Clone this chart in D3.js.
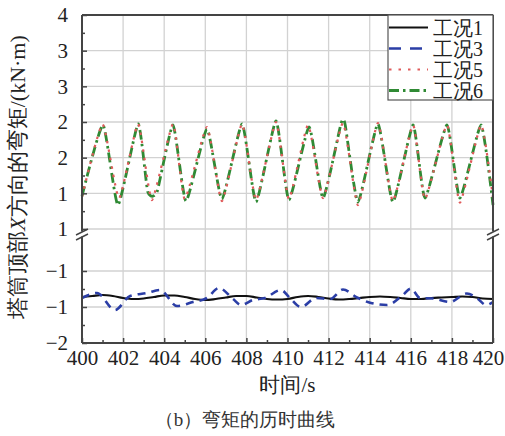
<!DOCTYPE html>
<html>
<head>
<meta charset="utf-8">
<script src="https://cdn.jsdelivr.net/npm/d3@7"></script>
</head>
<body>
<script>
    var width = 505, height = 436;
    var fontFace = "'Liberation Serif'";

    // tick values and labels (labels as printed on the original)
    var xTicks = [400, 402, 404, 406, 408, 410, 412, 414, 416, 418, 420];
    var xMinor = [401, 403, 405, 407, 409, 411, 413, 415, 417, 419];
    var upperTicks = [4, 3.5, 3, 2.5, 2, 1.5, 1];
    var upperLabels = ["4", "3", "3", "2", "2", "1", "1"];
    var upperMinor = [3.75, 3.25, 2.75, 2.25, 1.75, 1.25];
    var lowerTicks = [-0.5, -1, -1.5];
    var lowerLabels = ["\u22121", "\u22121", "\u22122"];
    var lowerMinor = [-0.75, -1.25];

    var legendNames = ["工况1", "工况3", "工况5", "工况6"];

    // 工况1 (lower part)
    var case1Time = [400, 400.5, 401, 401.5, 402, 402.5, 403, 403.5, 404, 404.5,
        405, 405.5, 406, 406.5, 407, 407.5, 408, 408.5, 409, 409.5,
        410, 410.5, 411, 411.5, 412, 412.5, 413, 413.5, 414, 414.5,
        415, 415.5, 416, 416.5, 417, 417.5, 418, 418.5, 419, 419.5, 420];
    var case1Value = [-0.861, -0.847, -0.833, -0.847, -0.875, -0.889, -0.882, -0.861, -0.840, -0.840,
        -0.861, -0.889, -0.903, -0.889, -0.868, -0.847, -0.847, -0.868, -0.889, -0.896,
        -0.889, -0.861, -0.847, -0.861, -0.882, -0.896, -0.889, -0.875, -0.861, -0.854,
        -0.861, -0.875, -0.889, -0.889, -0.875, -0.868, -0.861, -0.854, -0.861, -0.882, -0.889];

    // 工况3 (lower part)
    var case3Time = [400.0, 400.73, 401.6, 402.34, 403.16, 403.8, 404.62, 405.4, 406.08, 406.67,
        407.35, 407.74, 408.32, 408.9, 409.68, 410.12, 410.66, 411.39, 412.07, 412.7,
        413.38, 414.06, 414.84, 415.62, 416.0, 416.45, 417.08, 417.9, 418.73, 419.27, 419.66, 420.0];
    var case3Value = [-0.875, -0.806, -1.042, -0.847, -0.806, -0.764, -0.986, -0.931, -0.875, -0.736,
        -0.889, -0.972, -0.903, -0.875, -0.764, -0.875, -1.0, -0.875, -0.889, -0.757,
        -0.868, -0.944, -0.972, -0.833, -0.743, -0.875, -0.882, -0.931, -0.813, -0.889, -0.972, -0.931];

    // 工况5 (upper part)
    var case5Time = [400.0, 401.0, 401.8, 402.73, 403.4, 404.43, 405.0, 406.08, 406.81, 407.79,
        408.47, 409.44, 410.07, 411.0, 411.73, 412.7, 413.43, 414.4, 415.13, 416.11,
        416.69, 417.76, 418.39, 419.42, 420.0];
    var case5Value = [1.45, 2.47, 1.43, 2.472, 1.406, 2.472, 1.42, 2.43, 1.392, 2.472,
        1.406, 2.50, 1.42, 2.458, 1.434, 2.486, 1.336, 2.486, 1.39, 2.458,
        1.42, 2.458, 1.37, 2.458, 1.434];

    // 工况6 (upper part)
    var case6Time = [400.0, 401.02, 401.75, 402.73, 403.2, 403.65, 404.43, 405.06, 406.08, 406.81,
        407.79, 408.47, 409.44, 410.07, 411.05, 411.73, 412.6, 412.8, 413.43, 414.4,
        415.13, 416.11, 416.69, 417.76, 418.39, 419.42, 420.0];
    var case6Value = [1.462, 2.458, 1.336, 2.472, 1.519, 1.519, 2.458, 1.392, 2.40, 1.42,
        2.472, 1.378, 2.514, 1.406, 2.43, 1.434, 2.472, 2.472, 1.378, 2.472,
        1.378, 2.458, 1.434, 2.458, 1.434, 2.458, 1.336];

    var pLeft = 82, pRight = 493, pTop = 15, pBottom = 343;

    var x = d3.scaleLinear().domain([400, 420]).range([pLeft, pRight]);
    var yUp = d3.scaleLinear().domain([1, 4]).range([229, pTop]);
    var yLow = d3.scaleLinear().domain([-1.5, -0.5]).range([pBottom, 271]);

    d3.select("body").style("margin", "0px");
    var svg = d3.select("body").append("svg")
        .attr("width", width)
        .attr("height", height);

    // grid
    var grid = svg.append("g").attr("stroke", "#d2d2d2").attr("stroke-width", 1.3);
    grid.selectAll(".vg").data(xTicks.slice(1, -1)).enter().append("line")
        .attr("x1", function(d) { return x(d); }).attr("x2", function(d) { return x(d); })
        .attr("y1", pTop).attr("y2", pBottom);
    grid.selectAll(".hu").data(upperTicks.slice(1)).enter().append("line")
        .attr("x1", pLeft).attr("x2", pRight)
        .attr("y1", function(d) { return yUp(d); }).attr("y2", function(d) { return yUp(d); });
    grid.selectAll(".hl").data(lowerTicks.slice(0, -1)).enter().append("line")
        .attr("x1", pLeft).attr("x2", pRight)
        .attr("y1", function(d) { return yLow(d); }).attr("y2", function(d) { return yLow(d); });

    function series(times, values) {
        return times.map(function(t, i) { return [t, values[i]]; });
    }

    var lineUp = d3.line().x(function(d) { return x(d[0]); }).y(function(d) { return yUp(d[1]); })
        .curve(d3.curveCardinal.tension(0.5));
    var lineLow = d3.line().x(function(d) { return x(d[0]); }).y(function(d) { return yLow(d[1]); })
        .curve(d3.curveMonotoneX);

    var styles = [
        {color: "#111111", width: 2.2, dash: null},
        {color: "#2b3ea6", width: 2.6, dash: "8,6"},
        {color: "#e05a5a", width: 2.2, dash: "2.5,6"},
        {color: "#2f8a34", width: 2.8, dash: "10,4,2.5,4"}
    ];

    function drawLine(gen, data, s) {
        svg.append("path")
            .datum(data)
            .attr("d", gen)
            .attr("fill", "none")
            .attr("stroke", s.color)
            .attr("stroke-width", s.width)
            .attr("stroke-dasharray", s.dash);
    }

    drawLine(lineLow, series(case1Time, case1Value), styles[0]);
    drawLine(lineLow, series(case3Time, case3Value), styles[1]);
    drawLine(lineUp, series(case6Time, case6Value), styles[3]);
    drawLine(lineUp, series(case5Time, case5Value), styles[2]);

    // axes (ticks point inward)
    var axLeftUp = svg.append("g").attr("transform", "translate(" + pLeft + ",0)")
        .call(d3.axisLeft(yUp).tickValues(upperTicks)
            .tickFormat(function(d, i) { return upperLabels[i]; })
            .tickSize(-5).tickPadding(14));
    var axLeftLow = svg.append("g").attr("transform", "translate(" + pLeft + ",0)")
        .call(d3.axisLeft(yLow).tickValues(lowerTicks)
            .tickFormat(function(d, i) { return lowerLabels[i]; })
            .tickSize(-5).tickPadding(14));
    var axMinorUp = svg.append("g").attr("transform", "translate(" + pLeft + ",0)")
        .call(d3.axisLeft(yUp).tickValues(upperMinor).tickFormat("").tickSize(-3));
    var axMinorLow = svg.append("g").attr("transform", "translate(" + pLeft + ",0)")
        .call(d3.axisLeft(yLow).tickValues(lowerMinor).tickFormat("").tickSize(-3));
    var axBottom = svg.append("g").attr("transform", "translate(0," + pBottom + ")")
        .call(d3.axisBottom(x).tickValues(xTicks).tickFormat(d3.format("d"))
            .tickSize(-5).tickPadding(7));
    var axBottomMinor = svg.append("g").attr("transform", "translate(0," + pBottom + ")")
        .call(d3.axisBottom(x).tickValues(xMinor).tickFormat("").tickSize(-3));

    [axLeftUp, axLeftLow, axMinorUp, axMinorLow, axBottom, axBottomMinor].forEach(function(g) {
        g.select(".domain").remove();
        g.attr("font-family", null).attr("font-size", null);
        g.selectAll(".tick line").attr("stroke", "#444").attr("stroke-width", 1.5);
        g.selectAll("text").style("font-family", fontFace).style("font-size", "21px").attr("fill", "#222");
    });
    // keep the last x label inside the page
    axBottom.selectAll(".tick text").filter(function(d) { return d === 420; }).attr("dx", "-5");

    // frame with axis break
    var frame = svg.append("g").attr("stroke", "#444").attr("stroke-width", 2).attr("fill", "none");
    frame.append("line").attr("x1", pLeft).attr("x2", pRight).attr("y1", pTop).attr("y2", pTop);
    frame.append("line").attr("x1", pLeft).attr("x2", pRight).attr("y1", pBottom).attr("y2", pBottom);
    [pLeft, pRight].forEach(function(px) {
        frame.append("line").attr("x1", px).attr("x2", px).attr("y1", pTop).attr("y2", 231.5);
        frame.append("line").attr("x1", px).attr("x2", px).attr("y1", 236.5).attr("y2", pBottom);
        frame.append("line").attr("stroke-width", 1.5)
            .attr("x1", px - 6).attr("y1", 235).attr("x2", px + 6).attr("y2", 229);
        frame.append("line").attr("stroke-width", 1.5)
            .attr("x1", px - 6).attr("y1", 240).attr("x2", px + 6).attr("y2", 234);
    });

    // legend
    var lg = svg.append("g");
    lg.append("rect").attr("x", 388).attr("y", pTop).attr("width", pRight - 388).attr("height", 85)
        .attr("fill", "#fff").attr("stroke", "#555").attr("stroke-width", 1.2);
    var legendDash = [null, "12,9", "2.5,7", "10,4,2.5,4"];
    legendNames.forEach(function(name, i) {
        var cy = 27.5 + i * 21;
        var s = styles[i];
        lg.append("line").attr("x1", 389).attr("x2", 428).attr("y1", cy).attr("y2", cy)
            .attr("stroke", s.color).attr("stroke-width", s.width)
            .attr("stroke-dasharray", legendDash[i]);
        lg.append("text").attr("x", 433).attr("y", cy + 7)
            .style("font-family", fontFace).style("font-size", "20px").attr("fill", "#222")
            .text(name);
    });

    // axis titles
    svg.append("text")
        .attr("x", (pLeft + pRight) / 2).attr("y", 392)
        .attr("text-anchor", "middle")
        .style("font-family", fontFace).style("font-size", "21px").attr("fill", "#222")
        .text("时间/s");

    var yt = svg.append("text")
        .attr("transform", "translate(25,177) rotate(-90)")
        .attr("text-anchor", "middle")
        .style("font-family", fontFace).style("font-size", "22px").attr("fill", "#222");
    yt.append("tspan").text("塔筒顶部");
    yt.append("tspan").style("font-style", "italic").text("X");
    yt.append("tspan").text("方向的弯矩/(kN·m)");

    svg.append("text")
        .attr("x", 245).attr("y", 426)
        .attr("text-anchor", "middle")
        .style("font-family", fontFace).style("font-size", "19px").attr("fill", "#333")
        .text("（b）弯矩的历时曲线");
</script>
</body>
</html>
